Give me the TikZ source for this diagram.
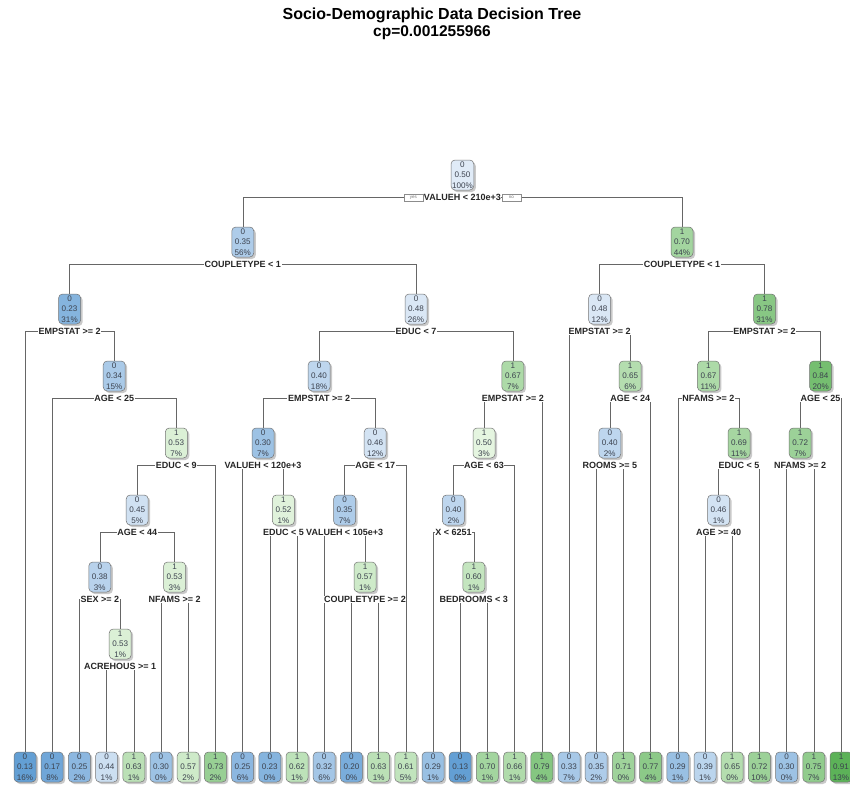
\documentclass[tikz,border=0pt]{standalone}
\usepackage{fontspec}
\setmainfont{Liberation Sans}
\usetikzlibrary{shadows,backgrounds}

\definecolor{bdark}{RGB}{98,158,212}
\definecolor{bpale}{RGB}{224,235,247}
\definecolor{gdark}{RGB}{92,178,88}
\definecolor{gpale}{RGB}{229,245,224}
\definecolor{boxtext}{RGB}{60,66,78}

\tikzset{
  treebox/.style={draw=black!55, line width=0.5pt, rounded corners=4pt,
    align=center, inner sep=1pt, minimum width=22pt, minimum height=30pt,
    text=boxtext, font=\fontsize{8.1}{10.4}\selectfont,
    drop shadow={shadow xshift=2pt, shadow yshift=-2pt, opacity=0.35, fill=black!60}},
  splitlab/.style={fill=white, inner sep=0.6pt,
    font=\fontsize{9}{10}\selectfont\bfseries, text=black!85},
  yesno/.style={draw=black!45, fill=white, inner sep=0.5pt, minimum width=19pt,
    minimum height=6.5pt, font=\fontsize{4.5}{5}\selectfont, text=black!55},
  edge/.style={draw=black!60, line width=0.55pt},
}

% fill colour from class (0 blue, 1 green) and fitted probability
\newcommand\mkfill[2]{%
  \ifnum#1=0
    \pgfmathtruncatemacro\shd{max(0,min(100,(0.5-#2)*270))}%
    \edef\fillc{bdark!\shd!bpale}%
  \else
    \pgfmathtruncatemacro\shd{max(0,min(100,(#2-0.5)*244))}%
    \edef\fillc{gdark!\shd!gpale}%
  \fi}

% split node: name, x, depth, class, prob, percent, split rule
\newcommand\inode[7]{%
  \mkfill{#4}{#5}%
  \node[treebox, fill=\fillc] (#1) at (#2, {175+67*#3}) {#4\\#5\\#6\%};
  \node[splitlab] (#1s) at (#2, {197.5+67*#3}) {#7};}

% terminal node: name, x, class, prob, percent
\newcommand\tleaf[5]{%
  \mkfill{#3}{#4}%
  \node[treebox, fill=\fillc] (#1) at (#2, 767) {#3\\#4\\#5\%};}

% connector from a split rule to its two children
\newcommand\branch[3]{\draw[edge] (#2.north) |- (#1s.center) -| (#3.north);}

\begin{document}
\begin{tikzpicture}[x=1pt, y=-1pt]
\useasboundingbox (0,0) rectangle (850,787);

\node[font=\fontsize{16}{17}\selectfont\bfseries] (title) at (432,15) {Socio-Demographic Data Decision Tree};
\node[font=\fontsize{15.5}{17}\selectfont\bfseries] (cp) at (432,33) {cp=0.001255966};

% split nodes
\inode{n1}{462.4}{0}{0}{0.50}{100}{VALUEH < 210e+3}
\inode{n2}{242.8}{1}{0}{0.35}{56}{COUPLETYPE < 1}
\inode{n3}{682.0}{1}{1}{0.70}{44}{COUPLETYPE < 1}
\inode{n4}{69.6}{2}{0}{0.23}{31}{EMPSTAT >= 2}
\inode{n5}{416.0}{2}{0}{0.48}{26}{EDUC < 7}
\inode{n6}{599.6}{2}{0}{0.48}{12}{EMPSTAT >= 2}
\inode{n7}{764.5}{2}{1}{0.78}{31}{EMPSTAT >= 2}
\inode{n9}{114.2}{3}{0}{0.34}{15}{AGE < 25}
\inode{n10}{319.1}{3}{0}{0.40}{18}{EMPSTAT >= 2}
\inode{n11}{512.9}{3}{1}{0.67}{7}{EMPSTAT >= 2}
\inode{n13}{630.2}{3}{1}{0.65}{6}{AGE < 24}
\inode{n14}{708.4}{3}{1}{0.67}{11}{NFAMS >= 2}
\inode{n15}{820.6}{3}{1}{0.84}{20}{AGE < 25}
\inode{n19}{176.3}{4}{1}{0.53}{7}{EDUC < 9}
\inode{n20}{263.0}{4}{0}{0.30}{7}{VALUEH < 120e+3}
\inode{n21}{375.2}{4}{0}{0.46}{12}{AGE < 17}
\inode{n22}{484.0}{4}{1}{0.50}{3}{AGE < 63}
\inode{n26}{609.8}{4}{0}{0.40}{2}{ROOMS >= 5}
\inode{n29}{739.0}{4}{1}{0.69}{11}{EDUC < 5}
\inode{n30}{800.2}{4}{1}{0.72}{7}{NFAMS >= 2}
\inode{n38}{137.2}{5}{0}{0.45}{5}{AGE < 44}
\inode{n41}{283.4}{5}{1}{0.52}{1}{EDUC < 5}
\inode{n42}{344.6}{5}{0}{0.35}{7}{VALUEH < 105e+3}
\inode{n44}{453.4}{5}{0}{0.40}{2}{X < 6251}
\inode{n58}{718.6}{5}{0}{0.46}{1}{AGE >= 40}
\inode{n76}{99.8}{6}{0}{0.38}{3}{SEX >= 2}
\inode{n77}{174.6}{6}{1}{0.53}{3}{NFAMS >= 2}
\inode{n85}{365.0}{6}{1}{0.57}{1}{COUPLETYPE >= 2}
\inode{n89}{473.8}{6}{1}{0.60}{1}{BEDROOMS < 3}
\inode{n153}{120.2}{7}{1}{0.53}{1}{ACREHOUS >= 1}

\node[yesno, anchor=east] (yes) at (n1s.west) {yes};
\node[yesno, anchor=west] (no) at (n1s.east) {no};

% terminal nodes
\tleaf{l0}{25.0}{0}{0.13}{16}
\tleaf{l1}{52.2}{0}{0.17}{8}
\tleaf{l2}{79.4}{0}{0.25}{2}
\tleaf{l3}{106.6}{0}{0.44}{1}
\tleaf{l4}{133.8}{1}{0.63}{1}
\tleaf{l5}{161.0}{0}{0.30}{0}
\tleaf{l6}{188.2}{1}{0.57}{2}
\tleaf{l7}{215.4}{1}{0.73}{2}
\tleaf{l8}{242.6}{0}{0.25}{6}
\tleaf{l9}{269.8}{0}{0.23}{0}
\tleaf{l10}{297.0}{1}{0.62}{1}
\tleaf{l11}{324.2}{0}{0.32}{6}
\tleaf{l12}{351.4}{0}{0.20}{0}
\tleaf{l13}{378.6}{1}{0.63}{1}
\tleaf{l14}{405.8}{1}{0.61}{5}
\tleaf{l15}{433.0}{0}{0.29}{1}
\tleaf{l16}{460.2}{0}{0.13}{0}
\tleaf{l17}{487.4}{1}{0.70}{1}
\tleaf{l18}{514.6}{1}{0.66}{1}
\tleaf{l19}{541.8}{1}{0.79}{4}
\tleaf{l20}{569.0}{0}{0.33}{7}
\tleaf{l21}{596.2}{0}{0.35}{2}
\tleaf{l22}{623.4}{1}{0.71}{0}
\tleaf{l23}{650.6}{1}{0.77}{4}
\tleaf{l24}{677.8}{0}{0.29}{1}
\tleaf{l25}{705.0}{0}{0.39}{1}
\tleaf{l26}{732.2}{1}{0.65}{0}
\tleaf{l27}{759.4}{1}{0.72}{10}
\tleaf{l28}{786.6}{0}{0.30}{0}
\tleaf{l29}{813.8}{1}{0.75}{7}
\tleaf{l30}{841.0}{1}{0.91}{13}

% white page and connectors, under the boxes
\begin{scope}[on background layer]
\fill[white] (0,0) rectangle (850,787);
\branch{n1}{n2}{n3}
\branch{n2}{n4}{n5}
\branch{n3}{n6}{n7}
\branch{n4}{l0}{n9}
\branch{n9}{l1}{n19}
\branch{n19}{n38}{l7}
\branch{n38}{n76}{n77}
\branch{n76}{l2}{n153}
\branch{n153}{l3}{l4}
\branch{n77}{l5}{l6}
\branch{n5}{n10}{n11}
\branch{n10}{n20}{n21}
\branch{n20}{l8}{n41}
\branch{n41}{l9}{l10}
\branch{n21}{n42}{l14}
\branch{n42}{l11}{n85}
\branch{n85}{l12}{l13}
\branch{n11}{n22}{l19}
\branch{n22}{n44}{l18}
\branch{n44}{l15}{n89}
\branch{n89}{l16}{l17}
\branch{n6}{l20}{n13}
\branch{n13}{n26}{l23}
\branch{n26}{l21}{l22}
\branch{n7}{n14}{n15}
\branch{n14}{l24}{n29}
\branch{n29}{n58}{l27}
\branch{n58}{l25}{l26}
\branch{n15}{n30}{l30}
\branch{n30}{l28}{l29}
\end{scope}
\end{tikzpicture}
\end{document}
